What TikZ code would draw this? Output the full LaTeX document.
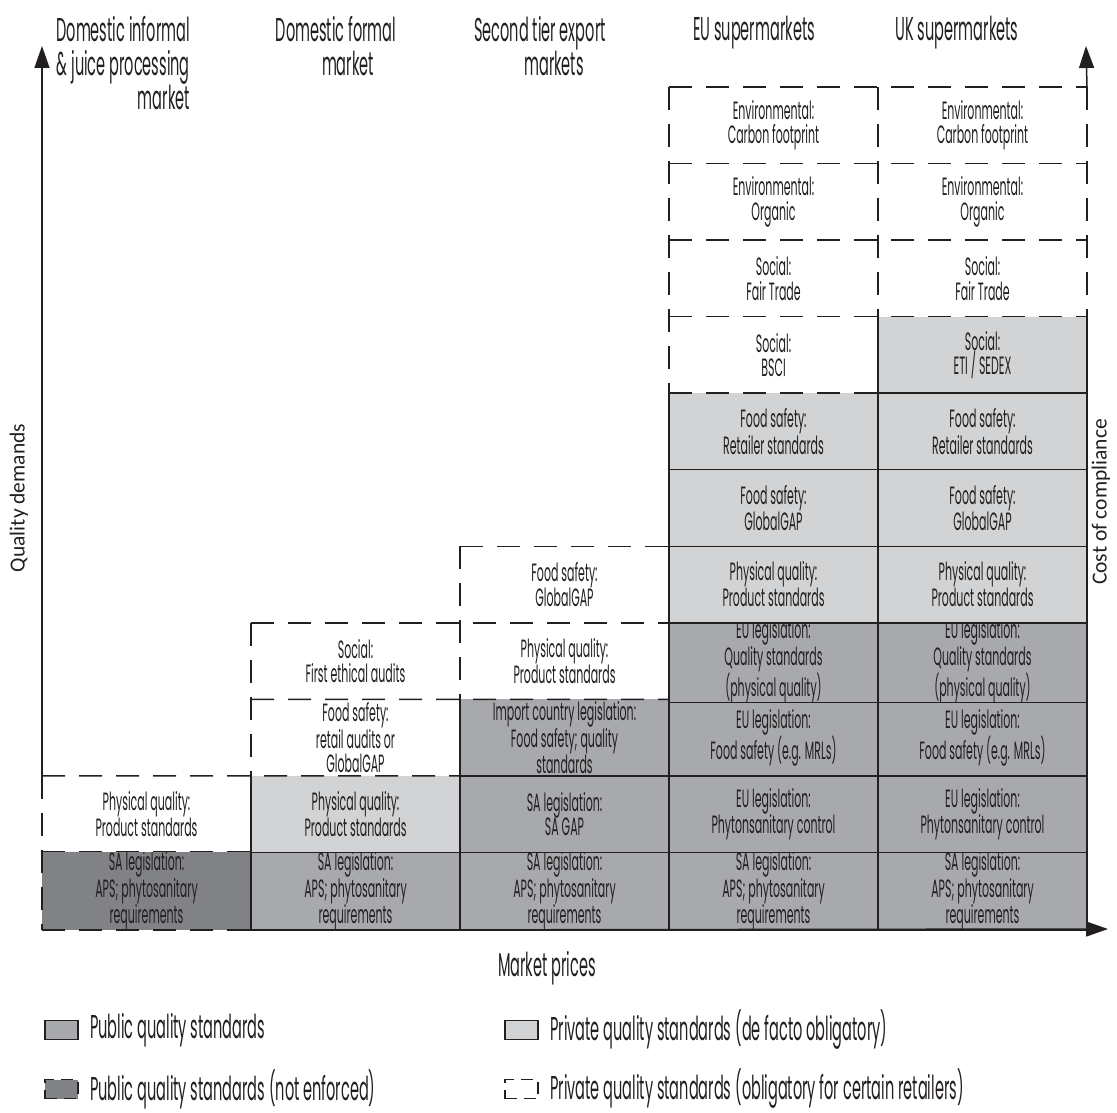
\documentclass[tikz,border=0pt]{standalone}
\usepackage{fontspec}
\setmainfont{Poppins}[FakeStretch=0.44]
\newfontfamily\axisfont{Carlito}
\usetikzlibrary{arrows.meta}

\definecolor{pubgray}{HTML}{A7A9AC}
\definecolor{privgray}{HTML}{D1D3D4}
\definecolor{negray}{HTML}{808285}
\definecolor{ink}{HTML}{231F20}

\newcommand{\cellfont}{\fontsize{25}{24.5}\selectfont}
\newcommand{\headfont}{\fontsize{33}{34}\selectfont}
\newcommand{\legfont}{\fontsize{33}{34}\selectfont}
% cell: name, column, row (1 = bottom), style, text
\newcommand{\cellnode}[5]{%
  \node[cellbox,#4] (#1) at ({42+209*(#2-1)+104.5},{929-76.545*(#3-1)-38.27}) {#5};}

\begin{document}
\begin{tikzpicture}[x=1pt,y=-1pt,
  cellbox/.style={minimum width=209pt,minimum height=76.545pt,inner sep=0pt,
    outer sep=0pt,align=center,font=\cellfont,text=ink},
  pub/.style={fill=pubgray},
  priv/.style={fill=privgray},
  notenf/.style={fill=negray},
  opt/.style={fill=white},
  solidedge/.style={draw=ink,line width=1.5pt},
  dashedge/.style={draw=ink,line width=1.5pt,dash pattern=on 23pt off 14pt},
  axisarrow/.style={draw=ink,line width=1.5pt,-{Triangle[length=22pt,width=15pt]}},
  head/.style={font=\headfont,text=ink,inner sep=0pt},
  legbox/.style={minimum width=33pt,minimum height=19pt,inner sep=0pt,outer sep=0pt,line width=1.5pt},
  legtext/.style={font=\legfont,text=ink,anchor=west,inner sep=0pt},
  axislabel/.style={font=\axisfont\fontsize{21.5}{24}\selectfont,text=ink,rotate=90,inner sep=0pt}]

\useasboundingbox (0,0) rectangle (1117,1113);

% ---- column 1: domestic informal
\cellnode{c1r1}{1}{1}{notenf}{SA legislation:\\APS; phytosanitary\\requirements}
\cellnode{c1r2}{1}{2}{opt}{Physical quality:\\Product standards}
% ---- column 2: domestic formal
\cellnode{c2r1}{2}{1}{pub}{SA legislation:\\APS; phytosanitary\\requirements}
\cellnode{c2r2}{2}{2}{priv}{Physical quality:\\Product standards}
\cellnode{c2r3}{2}{3}{opt}{Food safety:\\retail audits or\\GlobalGAP}
\cellnode{c2r4}{2}{4}{opt}{Social:\\First ethical audits}
% ---- column 3: second tier export
\cellnode{c3r1}{3}{1}{pub}{SA legislation:\\APS; phytosanitary\\requirements}
\cellnode{c3r2}{3}{2}{pub}{SA legislation:\\SA GAP}
\cellnode{c3r3}{3}{3}{pub}{Import country legislation:\\Food safety; quality\\standards}
\cellnode{c3r4}{3}{4}{opt}{Physical quality:\\Product standards}
\cellnode{c3r5}{3}{5}{opt}{Food safety:\\GlobalGAP}
% ---- column 4: EU supermarkets
\cellnode{c4r1}{4}{1}{pub}{SA legislation:\\APS; phytosanitary\\requirements}
\cellnode{c4r2}{4}{2}{pub}{EU legislation:\\Phytonsanitary control}
\cellnode{c4r3}{4}{3}{pub}{EU legislation:\\Food safety (e.g. MRLs)}
\cellnode{c4r4}{4}{4}{pub}{EU legislation:\\Quality standards\\(physical quality)}
\cellnode{c4r5}{4}{5}{priv}{Physical quality:\\Product standards}
\cellnode{c4r6}{4}{6}{priv}{Food safety:\\GlobalGAP}
\cellnode{c4r7}{4}{7}{priv}{Food safety:\\Retailer standards}
\cellnode{c4r8}{4}{8}{opt}{Social:\\BSCI}
\cellnode{c4r9}{4}{9}{opt}{Social:\\Fair Trade}
\cellnode{c4r10}{4}{10}{opt}{Environmental:\\Organic}
\cellnode{c4r11}{4}{11}{opt}{Environmental:\\Carbon footprint}
% ---- column 5: UK supermarkets
\cellnode{c5r1}{5}{1}{pub}{SA legislation:\\APS; phytosanitary\\requirements}
\cellnode{c5r2}{5}{2}{pub}{EU legislation:\\Phytonsanitary control}
\cellnode{c5r3}{5}{3}{pub}{EU legislation:\\Food safety (e.g. MRLs)}
\cellnode{c5r4}{5}{4}{pub}{EU legislation:\\Quality standards\\(physical quality)}
\cellnode{c5r5}{5}{5}{priv}{Physical quality:\\Product standards}
\cellnode{c5r6}{5}{6}{priv}{Food safety:\\GlobalGAP}
\cellnode{c5r7}{5}{7}{priv}{Food safety:\\Retailer standards}
\cellnode{c5r8}{5}{8}{priv}{Social:\\ETI / SEDEX}
\cellnode{c5r9}{5}{9}{opt}{Social:\\Fair Trade}
\cellnode{c5r10}{5}{10}{opt}{Environmental:\\Organic}
\cellnode{c5r11}{5}{11}{opt}{Environmental:\\Carbon footprint}

% ---- dashed borders of the optional / unenforced standards
\draw[dashedge] (c1r1.south west) -- (c1r1.south east);
\draw[dashedge] (c1r1.north west) -- (c1r1.north east);
\draw[dashedge] (c1r2.north west) -- (c2r3.south east);
\draw[dashedge] (c2r3.north west) -- (c3r4.south east);
\draw[dashedge] (c2r4.north west) -- (c3r4.north east);
\draw[dashedge] (c3r5.north west) -- (c3r5.north east);
\draw[dashedge] (c4r8.south west) -- (c4r8.south east);
\draw[dashedge] (c4r8.north west) -- (c5r8.north east);
\draw[dashedge] (c4r9.north west) -- (c5r9.north east);
\draw[dashedge] (c4r10.north west) -- (c5r10.north east);
\draw[dashedge] (c4r11.north west) -- (c5r11.north east);
\draw[dashedge] (c1r2.north west) -- (c1r1.south west);
\draw[dashedge] (c2r4.north west) -- (c2r3.south west);
\draw[dashedge] (c3r5.north west) -- (c3r4.south west);
\draw[dashedge] (c4r11.north west) -- (c4r8.south west);
\draw[dashedge] (c4r11.north east) -- (c4r9.south east);
\draw[dashedge] (c5r11.north east) -- (c5r9.south east);

% ---- solid borders of the obligatory standards
\foreach \c in {c2r1,c2r2,c3r1,c3r2,c3r3,c4r1,c4r2,c4r3,c4r4,c4r5,c4r6,c4r7,
                c5r1,c5r2,c5r3,c5r4,c5r5,c5r6,c5r7,c5r8}
  \draw[solidedge] (\c.north west) -- (\c.south west) -- (\c.south east) -- (\c.north east);

% ---- axes
\coordinate (ytip) at (42,46);
\coordinate (xtip) at (1108,929);
\coordinate (ctip) at (1086,46);
\draw[axisarrow] (c1r2.north west) -- (ytip);
\draw[axisarrow] (c2r1.south west) -- (xtip);
\draw[axisarrow] (c5r11.north east) -- (ctip);

\node[axislabel] (qd) at (19,498) {Quality demands};
\node[axislabel] (cc) at (1101,502) {Cost of compliance};
\node[head] (mp) at (547,968) {Market prices};

% ---- market headings
\node[head,align=right,anchor=north east] (h1) at (190,16) {Domestic informal\\\& juice processing\\market};
\node[head,align=center,anchor=north] (h2) at (336,16) {Domestic formal\\\hspace*{24pt}market};
\node[head,align=center,anchor=north] (h3) at (540,16) {Second tier export\\\hspace*{28pt}markets};
\node[head,anchor=north] (h4) at (754,16) {EU supermarkets};
\node[head,anchor=north] (h5) at (957,16) {UK supermarkets};

% ---- legend
\node[legbox,fill=pubgray,draw=ink] (lg1) at (61.5,1030) {};
\node[legtext] (lt1) at (90,1030) {Public quality standards};
\node[legbox,fill=negray,draw=ink,dash pattern=on 12pt off 7pt] (lg2) at (61.5,1089) {};
\node[legtext] (lt2) at (90,1089) {Public quality standards (not enforced)};
\node[legbox,fill=privgray,draw=ink] (lg3) at (521.5,1030) {};
\node[legtext] (lt3) at (550,1030) {Private quality standards (de facto obligatory)};
\node[legbox,fill=white,draw=ink,dash pattern=on 12pt off 7pt] (lg4) at (521.5,1089) {};
\node[legtext] (lt4) at (550,1089) {Private quality standards (obligatory for certain retailers)};
\end{tikzpicture}
\end{document}
